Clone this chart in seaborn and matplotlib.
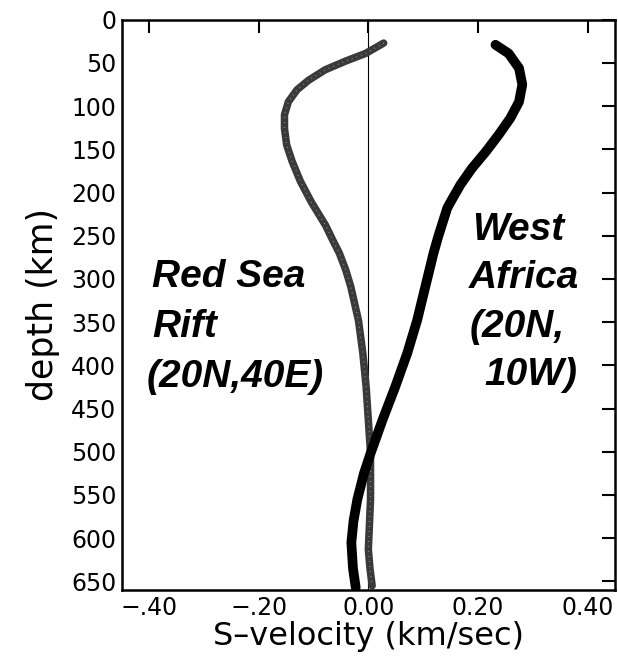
import matplotlib
matplotlib.use("Agg")
import matplotlib.pyplot as plt
import seaborn as sns
import pandas as pd

# ---- data ----
red_sea_depth = [27, 39, 48, 58, 70, 81, 95, 110, 126, 145, 164, 187, 211,
                 238, 255, 270, 290, 309, 348, 386, 425, 463, 502, 530, 555,
                 585, 613, 635, 655]
red_sea_vel = [0.028, -0.005, -0.042, -0.079, -0.109, -0.130, -0.146, -0.153,
               -0.153, -0.149, -0.139, -0.124, -0.104, -0.078, -0.065, -0.053,
               -0.041, -0.032, -0.018, -0.010, -0.004, 0.000, 0.004, 0.004,
               0.004, 0.002, 0.000, 0.003, 0.007]

west_africa_depth = [29, 39, 56, 75, 95, 114, 133, 153, 172, 191, 211, 218,
                     232, 250, 270, 309, 348, 386, 425, 463, 502, 525, 555,
                     580, 605, 635, 657]
west_africa_vel = [0.232, 0.256, 0.275, 0.281, 0.275, 0.259, 0.238, 0.214,
                   0.189, 0.168, 0.150, 0.144, 0.137, 0.128, 0.119, 0.104,
                   0.089, 0.071, 0.049, 0.026, 0.004, -0.008, -0.020,
                   -0.027, -0.031, -0.028, -0.023]

x_ticks = [-0.40, -0.20, 0.00, 0.20, 0.40]
x_tick_labels = ["\u2212.40", "\u2212.20", "0.00", "0.20", "0.40"]
y_ticks = list(range(0, 651, 50))
y_tick_labels = [str(t) for t in y_ticks]

red_sea_text = ["Red Sea", "Rift", "(20N,40E)"]
west_africa_text = ["West", "Africa", "(20N,", "10W)"]

# ---- styling ----
sns.set_theme(style="white")
plt.rcParams["font.family"] = ["DejaVu Sans"]

fig = plt.figure(figsize=(6.18, 6.58), dpi=100)
ax = fig.add_axes([0.197, 0.1033, 0.798, 0.8667])

ax.axvline(0, color="black", lw=0.8, zorder=1)

rs = pd.DataFrame({"v": red_sea_vel, "d": red_sea_depth})
wa = pd.DataFrame({"v": west_africa_vel, "d": west_africa_depth})

sns.lineplot(data=rs, x="v", y="d", sort=False, estimator=None, ax=ax,
             color="#3a3a3a", lw=5.4, solid_capstyle="round",
             solid_joinstyle="round", zorder=2)
sns.lineplot(data=rs, x="v", y="d", sort=False, estimator=None, ax=ax,
             color="white", lw=0.9, alpha=0.6, dashes=False, zorder=3)
ax.lines[-1].set_linestyle((0, (0.5, 3.5)))
sns.lineplot(data=wa, x="v", y="d", sort=False, estimator=None, ax=ax,
             color="black", lw=7.0, solid_capstyle="round",
             solid_joinstyle="round", zorder=4)

ax.set_xlim(-0.45, 0.45)
ax.set_ylim(660, 0)
ax.set_xticks(x_ticks)
ax.set_xticklabels(x_tick_labels)
ax.set_yticks(y_ticks)
ax.set_yticklabels(y_tick_labels)

ax.tick_params(axis="both", which="major", direction="in", length=9.5,
               width=1.5, color="black", top=True, right=True,
               labelcolor="black")
ax.tick_params(axis="y", labelsize=17, pad=4)
ax.tick_params(axis="x", labelsize=17, pad=4)

for s in ax.spines.values():
    s.set_visible(True)
    s.set_color("black")
    s.set_linewidth(1.8)

ax.set_xlabel("S\u2013velocity (km/sec)", fontsize=23, color="black", labelpad=1)
ax.set_ylabel("depth (km)", fontsize=25, color="black", labelpad=8)

txt_kw = dict(fontsize=28, fontweight="bold", fontstyle="italic",
              family=["Liberation Sans", "DejaVu Sans"], color="black",
              ha="left", va="baseline", zorder=5)
red_pos = [(-0.395, 309), (-0.395, 367), (-0.404, 425)]
for (xv, yv), t in zip(red_pos, red_sea_text):
    ax.text(xv, yv, t, **txt_kw)
wa_pos = [(0.190, 255), (0.184, 310), (0.184, 367), (0.212, 423)]
for (xv, yv), t in zip(wa_pos, west_africa_text):
    ax.text(xv, yv, t, **txt_kw)

if ax.get_legend() is not None:
    ax.get_legend().remove()

fig.savefig("out.png", dpi=100, facecolor="white")
